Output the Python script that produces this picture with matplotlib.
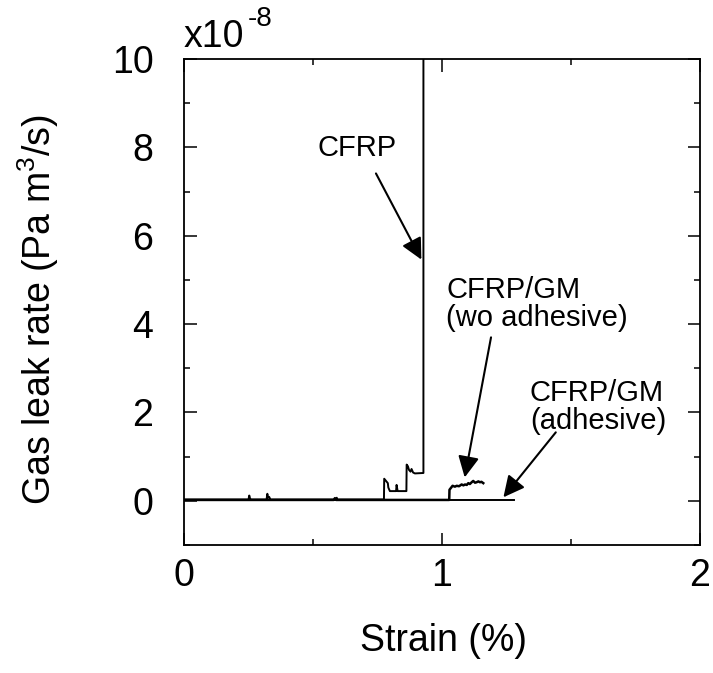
import matplotlib.pyplot as plt
from matplotlib.ticker import MultipleLocator

plt.rcParams['font.family'] = ['Liberation Sans', 'DejaVu Sans']

# CFRP (strain %, leak rate x1e-8 Pa m3/s)
cfrp_x = [0.0, 0.25, 0.253, 0.256, 0.26, 0.32, 0.323, 0.326, 0.33, 0.335, 0.59, 0.592, 0.595,
          0.775, 0.776, 0.783, 0.79, 0.792, 0.798, 0.822, 0.824, 0.828, 0.862, 0.863, 0.868,
          0.872, 0.878, 0.882, 0.888, 0.895, 0.928, 0.928]
cfrp_y = [0.03, 0.03, 0.12, 0.05, 0.03, 0.03, 0.16, 0.07, 0.09, 0.03, 0.03, 0.07, 0.03,
          0.03, 0.50, 0.45, 0.40, 0.30, 0.22, 0.22, 0.36, 0.22, 0.22, 0.82, 0.78,
          0.70, 0.66, 0.72, 0.64, 0.62, 0.63, 12.0]

# CFRP/GM without adhesive
wo_x = [0.0, 0.58, 0.585, 0.59, 1.0, 1.028, 1.029, 1.041, 1.05, 1.057, 1.066, 1.076, 1.083,
        1.089, 1.096, 1.102, 1.108, 1.115, 1.121, 1.128, 1.134, 1.141, 1.147, 1.153, 1.160]
wo_y = [0.02, 0.02, 0.06, 0.02, 0.02, 0.02, 0.25, 0.34, 0.32, 0.34, 0.33, 0.37, 0.35,
        0.37, 0.36, 0.40, 0.38, 0.42, 0.45, 0.41, 0.42, 0.44, 0.42, 0.43, 0.40]

# CFRP/GM with adhesive
ad_x = [0.0, 1.28]
ad_y = [0.01, 0.01]

fig = plt.figure(figsize=(7.13, 6.73), dpi=100)
ax = fig.add_axes([184 / 713, 1 - 545 / 673, 516 / 713, 486 / 673])

ax.plot(cfrp_x, cfrp_y, color='black', lw=1.4)
ax.plot(wo_x, wo_y, color='black', lw=1.8)
ax.plot(ad_x, ad_y, color='black', lw=1.4)

ax.set_xlim(0, 2)
ax.set_ylim(-1, 10)
ax.xaxis.set_major_locator(MultipleLocator(1))
ax.xaxis.set_minor_locator(MultipleLocator(0.5))
ax.yaxis.set_major_locator(MultipleLocator(2))
ax.yaxis.set_minor_locator(MultipleLocator(1))
ax.tick_params(which='both', direction='in', top=True, right=True, width=1.1,
               labelsize=27, colors='black')
ax.tick_params(which='major', length=9)
ax.tick_params(which='minor', length=4.5)
ax.tick_params(axis='y', which='major', pad=22)
ax.tick_params(axis='x', which='major', pad=9)
for s in ax.spines.values():
    s.set_linewidth(1.3)

ax.set_xlabel('Strain (%)', fontsize=27, va='center')
ax.set_ylabel('Gas leak rate (Pa m$^{\\mathregular{3}}$/s)', fontsize=27, va='center')
ax.xaxis.set_label_coords(0.502, -0.198)
ax.yaxis.set_label_coords(-0.282, 0.484)

ax.text(0.0, 1.046, 'x10', transform=ax.transAxes, fontsize=27, ha='left', va='center')
ax.text(0.124, 1.082, '-8', transform=ax.transAxes, fontsize=20, ha='left', va='center')

arrow = dict(arrowstyle='-|>', color='black', lw=1.5, mutation_scale=32, shrinkA=0, shrinkB=0)
ax.text(0.671, 7.99, 'CFRP', fontsize=21, ha='center', va='center')
ax.annotate('', xy=(0.920, 5.46), xytext=(0.744, 7.41), arrowprops=arrow)

ax.text(1.368, 4.46, 'CFRP/GM\n(wo adhesive)', fontsize=21, ha='center', va='center',
        linespacing=1.0, multialignment='left')
ax.annotate('', xy=(1.088, 0.53), xytext=(1.190, 3.70), arrowprops=arrow)

ax.text(1.605, 2.12, 'CFRP/GM\n(adhesive)', fontsize=21, ha='center', va='center',
        linespacing=1.0, multialignment='left')
ax.annotate('', xy=(1.238, 0.08), xytext=(1.441, 1.55), arrowprops=arrow)

plt.savefig('out.png', dpi=100)
